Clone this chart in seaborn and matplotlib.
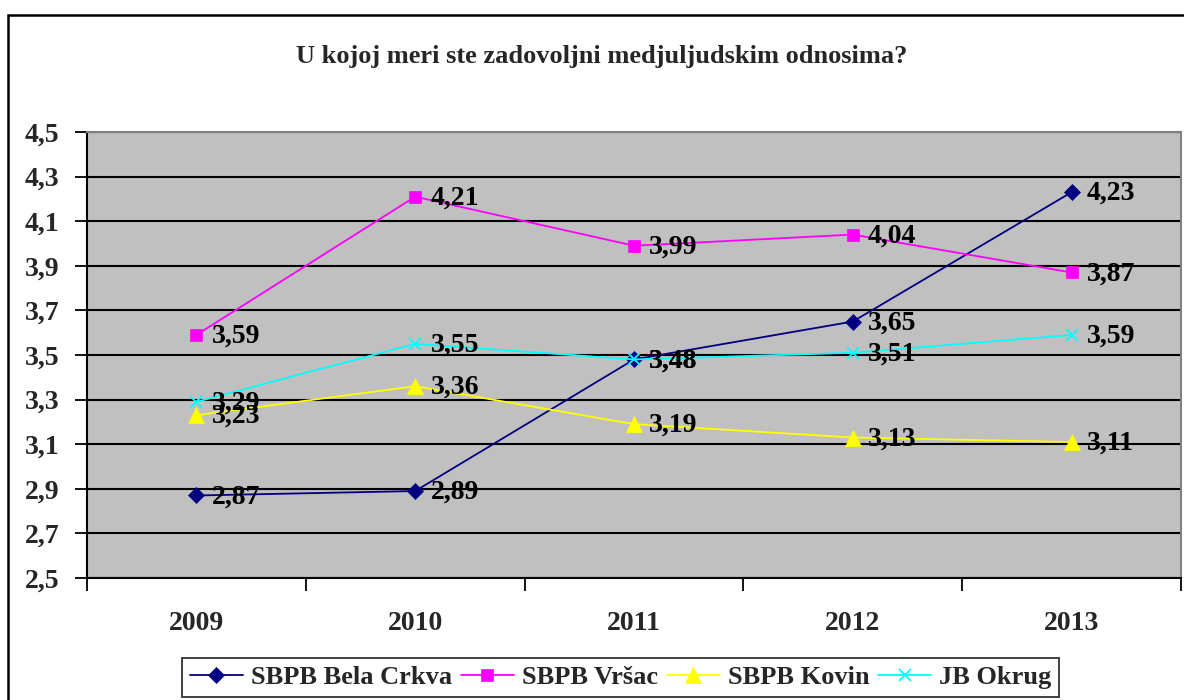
import numpy as np
import pandas as pd
import matplotlib.pyplot as plt
import seaborn as sns
from matplotlib.patches import Rectangle
from matplotlib.ticker import FixedLocator

# ── data ────────────────────────────────────────────────────────────────────
years      = ['2009', '2010', '2011', '2012', '2013']
bela_crkva = [2.87, 2.89, 3.48, 3.65, 4.23]
vrsac      = [3.59, 4.21, 3.99, 4.04, 3.87]
kovin      = [3.23, 3.36, 3.19, 3.13, 3.11]
jb_okrug   = [3.29, 3.55, 3.48, 3.51, 3.59]

series_names = ['SBPB Bela Crkva', 'SBPB Vršac', 'SBPB Kovin', 'JB Okrug']
y_ticks      = [2.5, 2.7, 2.9, 3.1, 3.3, 3.5, 3.7, 3.9, 4.1, 4.3, 4.5]

COLORS  = ['#000080', '#FF00FF', '#FFFF00', '#00FFFF']
MARKERS = ['D', 's', '^', 'x']
SIZES   = [8, 9, 11, 9]

df = pd.DataFrame({
    'pos':    np.tile(np.arange(len(years)), 4),
    'value':  bela_crkva + vrsac + kovin + jb_okrug,
    'series': np.repeat(series_names, len(years)),
})

sns.set_style('white')
plt.rcParams['font.family'] = ['Liberation Serif', 'DejaVu Serif']
plt.rcParams['font.weight'] = 'bold'

fig = plt.figure(figsize=(11.84, 7.0), dpi=100)
ax = fig.add_axes([87 / 1184, 1 - 578 / 700, (1181 - 87) / 1184, (578 - 132) / 700])
ax.set_facecolor('#C0C0C0')

for name, color, marker, ms in zip(series_names, COLORS, MARKERS, SIZES):
    sub = df[df['series'] == name]
    sns.lineplot(data=sub, x='pos', y='value', ax=ax, color=color, lw=1.3,
                 marker=marker, markersize=ms, markeredgecolor=color,
                 markeredgewidth=1.3 if marker == 'x' else 0.5,
                 label=name, legend=False, zorder=3)
    for x, v in zip(sub['pos'], sub['value']):
        ax.annotate(f'{v:.2f}'.replace('.', ','), (x, v), xytext=(11, -1),
                    textcoords='offset points', ha='left', va='center',
                    fontsize=20, fontweight='bold', color='black', zorder=4)

# axes & grid
ax.set_xlim(-0.5, len(years) - 0.5)
ax.set_ylim(2.5, 4.5)
ax.yaxis.set_major_locator(FixedLocator(y_ticks))
ax.set_yticklabels([f'{t:.1f}'.replace('.', ',') for t in y_ticks],
                   fontsize=20, fontweight='bold')
ax.set_xticks(range(len(years)))
ax.set_xticklabels(years, fontsize=20, fontweight='bold')
ax.xaxis.set_minor_locator(FixedLocator(np.arange(-0.5, len(years), 1.0)))
ax.tick_params(axis='x', which='major', length=0, pad=24)
ax.tick_params(axis='x', which='minor', length=9, width=1.3, direction='out',
               color='black', bottom=True)
ax.tick_params(axis='y', length=9, width=1.3, direction='out', pad=11,
               color='black', left=True)
ax.grid(axis='y', color='black', lw=1.5, zorder=1)
ax.set_axisbelow(True)
ax.set_xlabel('')
ax.set_ylabel('')
for side in ['left', 'bottom']:
    ax.spines[side].set_color('black')
    ax.spines[side].set_linewidth(1.5)
for side in ['top', 'right']:
    ax.spines[side].set_color('#808080')
    ax.spines[side].set_linewidth(1.5)

fig.text(0.508, 1 - 57 / 700, 'U kojoj meri ste zadovoljni medjuljudskim odnosima?',
         ha='center', va='center', fontsize=19, fontweight='bold')

leg = fig.legend(loc='upper left', bbox_to_anchor=(182 / 1184, 1 - 658 / 700),
                 ncol=4, fontsize=19, frameon=True, fancybox=False,
                 edgecolor='black', handlelength=2.0, handletextpad=0.3,
                 columnspacing=0.35, borderpad=0.3, borderaxespad=0)
leg.get_frame().set_linewidth(1.3)
for t in leg.get_texts():
    t.set_fontweight('bold')

# outer chart border (runs off the right and bottom edges)
fig.patches.append(Rectangle((8 / 1184, -0.1), 1.2, 1.1 - 15 / 700,
                             transform=fig.transFigure, fill=False,
                             edgecolor='black', lw=1.8, zorder=0))

fig.savefig('out.png', dpi=100)
